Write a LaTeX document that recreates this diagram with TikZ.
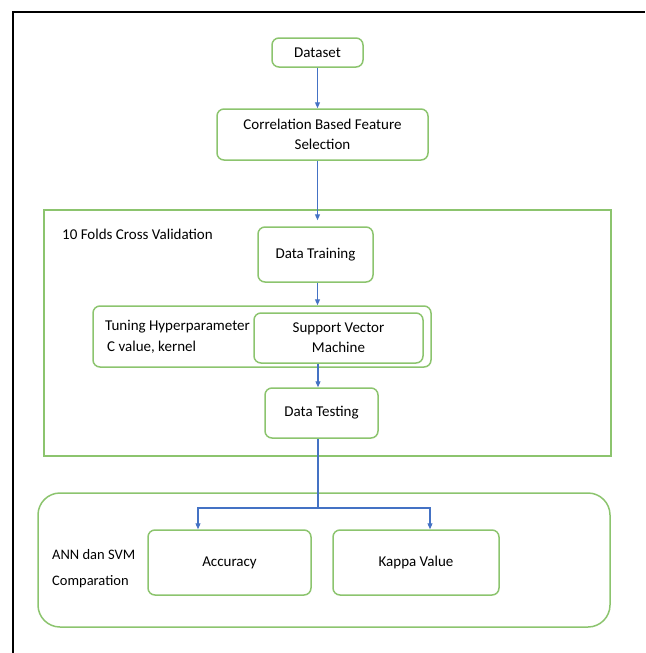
\documentclass[tikz,border=0pt]{standalone}
\usepackage{fontspec}
\setmainfont{Carlito}
\usepackage{tikz}
\usetikzlibrary{positioning,arrows.meta,calc}
\definecolor{boxgreen}{HTML}{8CC46E}
\definecolor{flowblue}{HTML}{4472C4}
\tikzset{
  step box/.style ={rectangle, rounded corners=7pt, draw=boxgreen, line width=1.5pt,
                    align=center, inner sep=2pt},
  group box/.style={rectangle, draw=boxgreen, line width=1.5pt, inner sep=0pt},
  lbl/.style      ={anchor=west, align=left, inner sep=0pt},
  flow/.style     ={draw=flowblue, line width=1.1pt, -{Triangle[length=6pt,width=5pt]}},
  plain/.style    ={draw=flowblue, line width=1.1pt},
  frame/.style    ={draw=black, line width=1.4pt},
}
\begin{document}
\begin{tikzpicture}[x=1pt, y=-1pt, font=\fontsize{15}{20}\selectfont]
\useasboundingbox (0,0) rectangle (645,653);
\draw[frame] (13,653) -- (13,12) -- (645,12);
% --- top: data and feature selection ---
\node[step box, minimum width=91pt, minimum height=29pt] (dataset) at (317.5,52.5) {Dataset};
\node[step box, minimum width=211pt, minimum height=51pt] (cbfs) at (322.5,134.5)
   {Correlation Based Feature\\ Selection};
% --- cross validation block ---
\node[group box, minimum width=567pt, minimum height=246pt] (cv) at (327.5,333) {};
\node[lbl] (cvlbl) at (62,234) {10 Folds Cross Validation};
\node[step box, minimum width=115pt, minimum height=55pt] (train) at (315.5,254.5) {Data Training};
\node[step box, minimum width=338pt, minimum height=61pt] (tune) at (262,336.5) {};
\node[step box, minimum width=169pt, minimum height=50pt] (svm) at (338.5,338)
   {Support Vector\\ Machine};
\node[lbl, font=\fontsize{15}{21}\selectfont] (tunelbl) at (105,337)
   {Tuning Hyperparameter\\ \hspace{2pt}C value, kernel};
\node[step box, minimum width=113pt, minimum height=50pt] (test) at (321.5,413) {Data Testing};
% --- comparison block ---
\node[step box, rounded corners=22pt, minimum width=572pt, minimum height=134pt] (cmp) at (324,560) {};
\node[lbl, font=\fontsize{14.5}{26}\selectfont] (cmplbl) at (52,569) {ANN dan SVM\\ Comparation};
\node[step box, minimum width=163pt, minimum height=65pt] (acc) at (229.5,562.5) {Accuracy};
\node[step box, minimum width=166pt, minimum height=65pt] (kappa) at (416,562.5) {Kappa Value};
\coordinate (split) at (318,508);
\coordinate (lbr) at (198,508);
\coordinate (rbr) at (430,508);
% --- connectors ---
\draw[flow] (dataset) -- (dataset |- cbfs.north);
\draw[flow, shorten >=6pt] (dataset |- cbfs.south) -- (dataset |- train.north);
\draw[flow] (dataset |- train.south) -- (dataset |- tune.north);
\draw[flow] (split |- svm.south) -- (split |- test.north);
\draw[plain] (split |- test.south) -- (split);
\draw[flow] (split) -- (lbr) -- (lbr |- acc.north);
\draw[flow] (split) -- (rbr) -- (rbr |- kappa.north);
\end{tikzpicture}
\end{document}
